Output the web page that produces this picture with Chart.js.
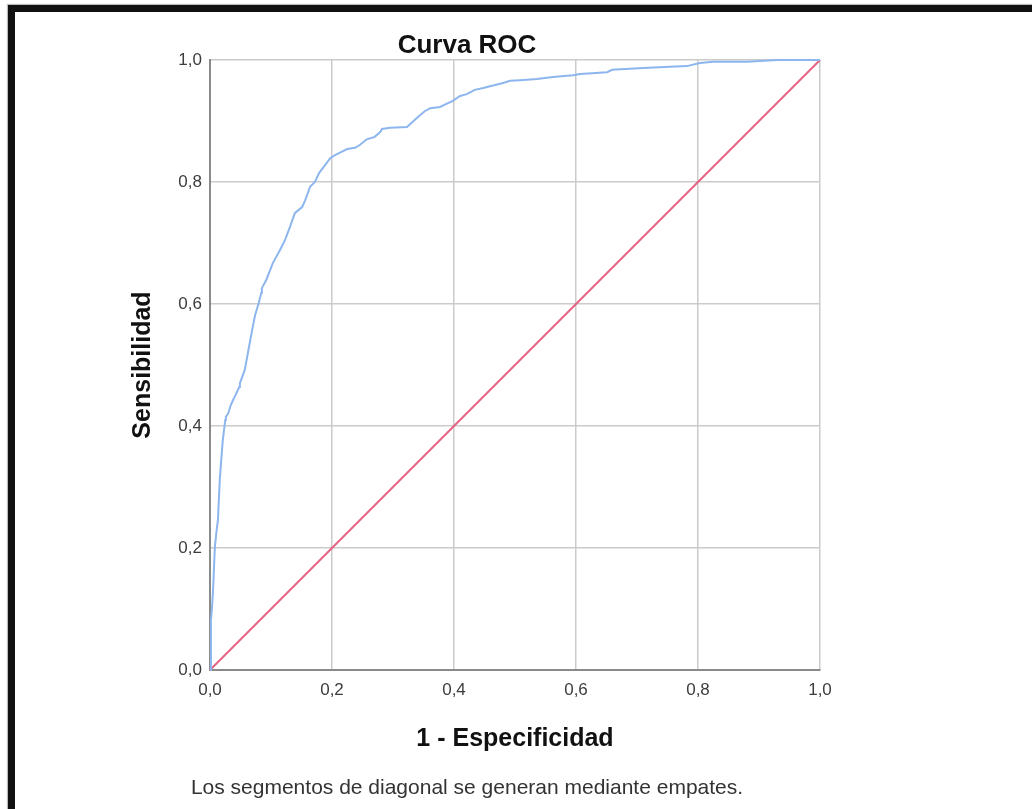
<!DOCTYPE html>
<html>
<head>
<meta charset="utf-8">
<script src="https://cdn.jsdelivr.net/npm/chart.js@4"></script>
<style>
    body { margin: 0; background: #fff; font-family: "Liberation Sans", Arial, sans-serif; }
    #frame { position: absolute; left: 8px; top: 5px; width: 1040px; height: 820px;
             border-top: 7px solid #111; border-left: 7px solid #111; box-shadow: -1px -1px 1px #bbb; }
    #chart { position: absolute; left: 0; top: 0; }
    .txt { position: absolute; left: 267px; width: 400px; text-align: center; white-space: nowrap; }
    #title { top: 31px; font-size: 26px; font-weight: bold; color: #111; line-height: 26px; }
    #note { top: 776px; font-size: 21px; color: #333; line-height: 21px; left: 167px; width: 600px; }
</style>
</head>
<body>
<div id="frame"></div>
<canvas id="chart" width="1032" height="809"></canvas>
<div id="title" class="txt">Curva ROC</div>
<div id="note" class="txt">Los segmentos de diagonal se generan mediante empates.</div>
<script>
// --- Data ---
const fprValues = [0, 0.0016, 0.0016, 0.003, 0.005, 0.008, 0.011, 0.013, 0.016, 0.018, 0.021, 0.025,
    0.026, 0.030, 0.034, 0.038, 0.041, 0.048, 0.049, 0.057, 0.064, 0.070, 0.074, 0.080, 0.084, 0.085,
    0.092, 0.103, 0.115, 0.123, 0.131, 0.139, 0.151, 0.156, 0.164, 0.172, 0.179, 0.189, 0.197, 0.205,
    0.213, 0.225, 0.238, 0.246, 0.257, 0.270, 0.279, 0.282, 0.295, 0.323, 0.339, 0.352, 0.361, 0.377,
    0.398, 0.410, 0.421, 0.434, 0.448, 0.459, 0.479, 0.492, 0.508, 0.536, 0.562, 0.595, 0.607, 0.651,
    0.659, 0.710, 0.754, 0.782, 0.803, 0.825, 0.880, 0.930, 1.0];
const tprValues = [0, 0.049, 0.082, 0.098, 0.131, 0.202, 0.230, 0.246, 0.311, 0.339, 0.377, 0.410,
    0.415, 0.421, 0.434, 0.443, 0.449, 0.464, 0.470, 0.492, 0.530, 0.562, 0.582, 0.602, 0.618, 0.626,
    0.639, 0.667, 0.689, 0.705, 0.726, 0.749, 0.759, 0.770, 0.792, 0.800, 0.815, 0.828, 0.839, 0.844,
    0.848, 0.854, 0.856, 0.861, 0.870, 0.874, 0.882, 0.887, 0.889, 0.890, 0.905, 0.916, 0.921, 0.923,
    0.933, 0.941, 0.944, 0.951, 0.954, 0.957, 0.962, 0.966, 0.967, 0.969, 0.972, 0.975, 0.977, 0.980,
    0.984, 0.987, 0.989, 0.990, 0.995, 0.997, 0.997, 1.0, 1.0];
const diagX = [0, 1];
const diagY = [0, 1];
const tickValues = [0, 0.2, 0.4, 0.6, 0.8, 1.0];

const FONT = '"Liberation Sans", Arial, sans-serif';
const fmt = v => Number(v).toFixed(1).replace('.', ',');

const rocPoints = fprValues.map((x, i) => ({ x: x, y: tprValues[i] }));
const diagPoints = diagX.map((x, i) => ({ x: x, y: diagY[i] }));

function fixedTicks(axis) {
    axis.ticks = tickValues.map(v => ({ value: v }));
}

new Chart(document.getElementById('chart').getContext('2d'), {
    type: 'scatter',
    data: {
        datasets: [
            {
                label: 'Curva',
                data: rocPoints,
                showLine: true,
                borderColor: '#8db6ee',
                borderWidth: 2,
                pointRadius: 0,
                tension: 0,
                clip: false
            },
            {
                label: 'Diagonal',
                data: diagPoints,
                showLine: true,
                borderColor: '#e6607f',
                borderWidth: 2,
                pointRadius: 0,
                clip: false
            }
        ]
    },
    options: {
        responsive: false,
        animation: false,
        layout: { padding: { left: 120, right: 212, top: 60, bottom: 29 } },
        plugins: { legend: { display: false }, tooltip: { enabled: false } },
        scales: {
            x: {
                type: 'linear', min: 0, max: 1,
                afterBuildTicks: fixedTicks,
                afterFit: s => { s.height = 110; },
                grid: { color: '#cbcbcb', lineWidth: 1.5, drawTicks: false },
                border: { color: '#8a8a8a', width: 2 },
                ticks: { callback: fmt, padding: 10, color: '#3c3c3c', font: { family: FONT, size: 17 } },
                title: { display: true, text: '1 - Especificidad', color: '#111',
                         font: { family: FONT, size: 25, weight: 'bold' }, padding: { top: 0, bottom: 26 } }
            },
            y: {
                type: 'linear', min: 0, max: 1,
                afterBuildTicks: fixedTicks,
                afterFit: s => { s.width = 90; },
                grid: { color: '#cbcbcb', lineWidth: 1.5, drawTicks: false },
                border: { color: '#8a8a8a', width: 2 },
                ticks: { callback: fmt, padding: 8, color: '#3c3c3c', font: { family: FONT, size: 17 } },
                title: { display: true, text: 'Sensibilidad', color: '#111',
                         font: { family: FONT, size: 25, weight: 'bold' }, padding: { top: 8, bottom: 0 } }
            }
        }
    }
});
</script>
</body>
</html>
